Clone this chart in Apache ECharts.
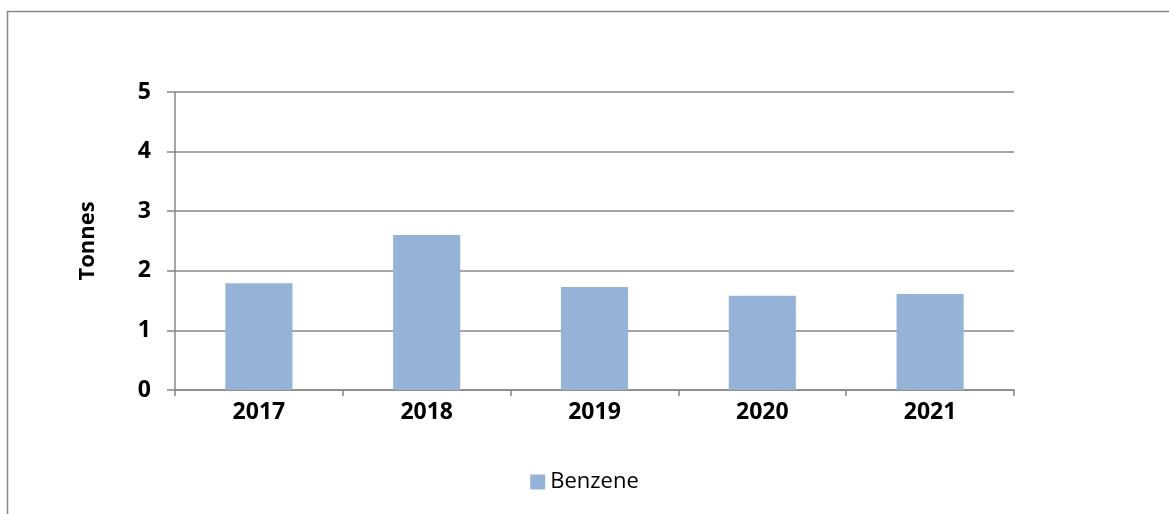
<!DOCTYPE html>
<html lang="en">
<head>
    <meta charset="UTF-8">
    <title>Benzene</title>
    <script type="text/javascript" src="https://cdn.jsdelivr.net/npm/echarts@6/dist/echarts.min.js"></script>
    <style>
        html, body { margin: 0; padding: 0; background: #fff; }
        #container { width: 1169px; height: 514px; }
    </style>
</head>
<body>
<div id="container"></div>
<script type="text/javascript">
    // data
    var years = ['2017', '2018', '2019', '2020', '2021'];
    var benzene = [1.79, 2.60, 1.73, 1.58, 1.61];
    var yTicks = [0, 1, 2, 3, 4, 5];

    var gray = '#878787';
    var myChart = echarts.init(document.getElementById('container'), null, {renderer: 'canvas'});

    var option = {
        animation: false,
        textStyle: {fontFamily: 'Open Sans'},
        graphic: [{
            type: 'rect',
            shape: {x: 7.5, y: 11.5, width: 1300, height: 700},
            style: {fill: 'none', stroke: gray, lineWidth: 1.5}
        }],
        grid: {left: 175, right: 155, top: 92, bottom: 124},
        legend: {
            data: ['Benzene'],
            left: 'center',
            top: 466,
            icon: 'rect',
            itemWidth: 15,
            itemHeight: 15,
            itemGap: 8,
            textStyle: {fontSize: 22, color: '#000', fontFamily: 'Open Sans'}
        },
        xAxis: {
            type: 'category',
            data: years,
            axisLine: {lineStyle: {color: gray, width: 1.5}},
            axisTick: {show: true, length: 6, lineStyle: {color: gray, width: 1.5}},
            axisLabel: {color: '#000', fontSize: 23, fontWeight: 'bold', margin: 11}
        },
        yAxis: {
            type: 'value',
            min: yTicks[0],
            max: yTicks[yTicks.length - 1],
            interval: 1,
            name: 'Tonnes',
            nameLocation: 'middle',
            nameGap: 76,
            nameRotate: 90,
            nameTextStyle: {color: '#000', fontSize: 22, fontWeight: 'bold'},
            axisLine: {show: true, lineStyle: {color: gray, width: 1.5}},
            axisTick: {show: true, length: 8, lineStyle: {color: gray, width: 1.5}},
            axisLabel: {color: '#000', fontSize: 23, fontWeight: 'bold', margin: 24},
            splitLine: {lineStyle: {color: gray, width: 1.5}}
        },
        series: [{
            name: 'Benzene',
            type: 'bar',
            data: benzene,
            barWidth: '40%',
            itemStyle: {color: '#95b3d7'}
        }]
    };

    myChart.setOption(option);
    window.addEventListener('resize', myChart.resize);
</script>
</body>
</html>
